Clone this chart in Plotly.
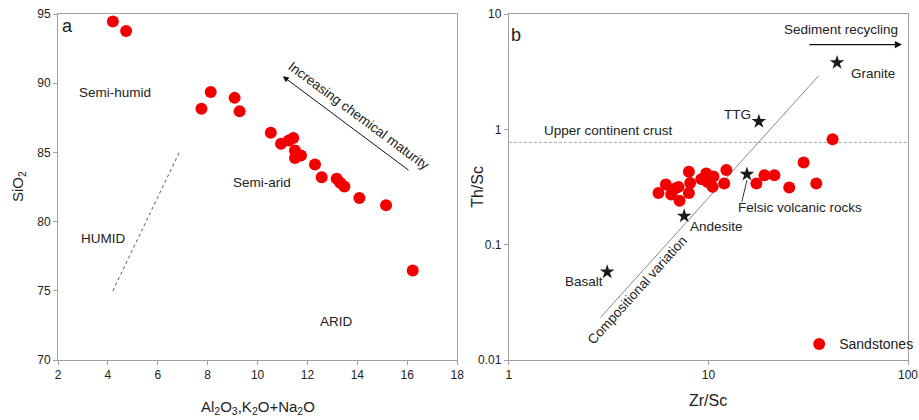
import math
import plotly.graph_objects as go

# ---- Panel a data: SiO2 vs Al2O3+K2O+Na2O ----
a_x = [4.2, 4.73, 7.75, 8.12, 9.08, 9.28, 10.53, 10.94, 11.25, 11.43, 11.5, 11.5, 11.74,
       12.3, 12.57, 13.17, 13.31, 13.48, 14.08, 15.15, 16.22]
a_y = [94.45, 93.77, 88.16, 89.37, 88.94, 87.97, 86.42, 85.62, 85.86, 86.04, 85.14, 84.59, 84.78,
       84.12, 83.2, 83.09, 82.8, 82.53, 81.7, 81.18, 76.46]
humid_line_x = [4.2, 6.86]
humid_line_y = [75.0, 85.0]
a_xticks = [2, 4, 6, 8, 10, 12, 14, 16, 18]
a_yticks = [70, 75, 80, 85, 90, 95]

# ---- Panel b data: Th/Sc vs Zr/Sc ----
b_x = [5.62, 6.12, 6.51, 6.82, 7.08, 7.17, 7.98, 7.98, 8.1, 9.2, 9.75, 9.9, 10.6, 10.5,
       12.0, 12.3, 17.4, 19.1, 21.4, 25.4, 30.0, 34.7, 41.9]
b_y = [0.281, 0.333, 0.272, 0.307, 0.317, 0.240, 0.281, 0.428, 0.343, 0.37, 0.414, 0.35, 0.39, 0.317,
       0.339, 0.443, 0.339, 0.40, 0.40, 0.313, 0.515, 0.339, 0.82]
star_names = ["Granite", "TTG", "Felsic volcanic rocks", "Andesite", "Basalt"]
star_x = [44.1, 17.9, 15.6, 7.56, 3.11]
star_y = [3.79, 1.17, 0.408, 0.177, 0.058]
comp_line_x = [2.88, 35.7]
comp_line_y = [0.0234, 2.92]
ucc_x = [1, 100]
ucc_y = [0.77, 0.77]
felsic_ptr_x = [15.6, 14.7]
felsic_ptr_y = [0.362, 0.235]
b_xticks = [1, 10, 100]
b_xtext = ["1", "10", "100"]
b_yticks = [0.01, 0.1, 1, 10]
b_ytext = ["0.01", "0.1", "1", "10"]

RED = "#f20000"
TXT = "#222222"
AX = "#a0a0a0"
FONT = "Liberation Sans, Arial, sans-serif"

fig = go.Figure()

fig.add_trace(go.Scatter(x=humid_line_x, y=humid_line_y, mode="lines",
                         line=dict(color="#555555", width=1, dash="dot"),
                         xaxis="x", yaxis="y", showlegend=False, hoverinfo="skip"))
fig.add_trace(go.Scatter(x=a_x, y=a_y, mode="markers",
                         marker=dict(color=RED, size=12, line=dict(width=0)),
                         xaxis="x", yaxis="y", showlegend=False, name="Sandstones"))

fig.add_trace(go.Scatter(x=ucc_x, y=ucc_y, mode="lines",
                         line=dict(color="#a8a8a8", width=1, dash="3px,2px"),
                         xaxis="x2", yaxis="y2", showlegend=False, hoverinfo="skip"))
fig.add_trace(go.Scatter(x=comp_line_x, y=comp_line_y, mode="lines",
                         line=dict(color="#888888", width=1),
                         xaxis="x2", yaxis="y2", showlegend=False, hoverinfo="skip"))
fig.add_trace(go.Scatter(x=felsic_ptr_x, y=felsic_ptr_y, mode="lines",
                         line=dict(color="#333333", width=1),
                         xaxis="x2", yaxis="y2", showlegend=False, hoverinfo="skip"))
fig.add_trace(go.Scatter(x=b_x, y=b_y, mode="markers",
                         marker=dict(color=RED, size=12, line=dict(width=0)),
                         xaxis="x2", yaxis="y2", showlegend=True, name="Sandstones"))
fig.add_trace(go.Scatter(x=star_x, y=star_y, mode="markers", text=star_names,
                         marker=dict(color="#1a1a1a", size=11, symbol="star", line=dict(width=0)),
                         xaxis="x2", yaxis="y2", showlegend=False))

axis_common = dict(showgrid=False, zeroline=False, showline=True, linecolor=AX, linewidth=1,
                   mirror=True, ticks="outside", ticklen=4, tickcolor=AX,
                   ticklabeloverflow="allow", automargin=False,
                   tickfont=dict(size=12, color=TXT, family=FONT))

fig.update_layout(
    width=919, height=420,
    margin=dict(l=58, r=11, t=14, b=60, autoexpand=False),
    paper_bgcolor="white", plot_bgcolor="white",
    font=dict(family=FONT, color=TXT),
    xaxis=dict(domain=[0, 0.4696], range=[2, 18], tickvals=a_xticks, anchor="y", **axis_common),
    yaxis=dict(domain=[0, 1], range=[70, 95], tickvals=a_yticks, anchor="x", **axis_common),
    xaxis2=dict(domain=[0.5304, 1], type="log", range=[0, 2], tickvals=b_xticks, ticktext=b_xtext,
                anchor="y2", **axis_common),
    yaxis2=dict(domain=[0, 1], type="log", range=[-2, 1], tickvals=b_yticks, ticktext=b_ytext,
                anchor="x2", **axis_common),
    legend=dict(x=0.872, y=0.045, xanchor="left", yanchor="middle", bgcolor="rgba(0,0,0,0)",
                font=dict(size=14, color=TXT), itemsizing="trace"),
)

def ann(text, x, y, xref, yref, size=13.5, angle=0, xanchor="center", xshift=0, yshift=0):
    fig.add_annotation(text=text, x=x, y=y, xref=xref, yref=yref, showarrow=False,
                       font=dict(size=size, color=TXT, family=FONT), textangle=angle,
                       xanchor=xanchor, yanchor="middle", xshift=xshift, yshift=yshift)

# axis titles
ann("Al<sub>2</sub>O<sub>3</sub>,K<sub>2</sub>O+Na<sub>2</sub>O", 0.5, 0, "x domain", "y domain",
    size=15, yshift=-47)
ann("SiO<sub>2</sub>", 0, 0.5, "x domain", "y domain", size=15, angle=-90, xshift=-40)
ann("Zr/Sc", 0.5, 0, "x2 domain", "y2 domain", size=16, yshift=-40)
ann("Th/Sc", 0, 0.5, "x2 domain", "y2 domain", size=16, angle=-90, xshift=-32)

# panel a labels
ann("a", 2.39, 94.1, "x", "y", size=18)
ann("Semi-humid", 4.29, 89.32, "x", "y")
ann("Semi-arid", 10.17, 82.85, "x", "y")
ann("HUMID", 3.79, 78.8, "x", "y")
ann("ARID", 13.15, 72.8, "x", "y")
ann("Increasing chemical maturity", 14.03, 87.65, "x", "y", angle=36.6)
fig.add_annotation(x=11.01, y=90.5, ax=16.11, ay=83.64, xref="x", yref="y", axref="x", ayref="y",
                   text="", showarrow=True, arrowhead=2, arrowsize=1.2, arrowwidth=1, arrowcolor="#111")

# panel b labels (log axes use log10 coordinates for annotations)
L = math.log10
ann("b", L(1.09), L(6.6), "x2", "y2", size=18)
ann("Upper continent crust", L(1.46), L(0.97), "x2", "y2", xanchor="left")
ann("Sediment recycling", L(90.7), L(7.3), "x2", "y2", xanchor="right")
fig.add_annotation(x=L(93.3), y=L(5.43), ax=L(31.5), ay=L(5.43), xref="x2", yref="y2",
                   axref="x2", ayref="y2", text="", showarrow=True, arrowhead=2,
                   arrowsize=1.2, arrowwidth=1.2, arrowcolor="#111")
ann("Granite", L(66.8), L(3.05), "x2", "y2")
ann("TTG", L(14.0), L(1.34), "x2", "y2")
ann("Felsic volcanic rocks", L(28.6), L(0.21), "x2", "y2")
ann("Andesite", L(11.03), L(0.1426), "x2", "y2")
ann("Basalt", L(2.37), L(0.0483), "x2", "y2")
ann("Compositional variation", L(4.38), L(0.0403), "x2", "y2", angle=-47.9)

fig.write_html("out.html", config={"displayModeBar": False},
               post_script="document.body.style.margin='0';document.body.style.overflow='hidden';")
